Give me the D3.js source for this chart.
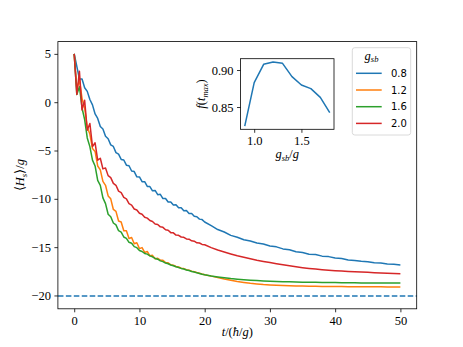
<!DOCTYPE html>
<html lang="en">
<head>
<meta charset="UTF-8">
<title>Hs relaxation</title>
<script src="https://d3js.org/d3.v7.min.js"></script>
<style>
  body { margin: 0; background: #ffffff; }
  svg { display: block; }
  .tk text { font-family: "Liberation Serif", serif; font-size: 12.5px; fill: #000; }
  .tk path, .tk line { stroke: #000; stroke-width: 0.8px; }
</style>
</head>
<body>
<script>
// time grid (hbar/g units)
var times = [0, 0.4, 0.8, 1.2, 1.6, 2, 2.4, 2.8, 3.2, 3.6, 4, 4.4, 4.8, 5.2, 5.6, 6, 6.4, 6.8, 7.2, 7.6,
  8, 8.4, 8.8, 9.2, 9.6, 10, 10.4, 10.8, 11.2, 11.6, 12, 12.4, 12.8, 13.2, 13.6, 14, 14.4, 14.8, 15.2, 15.6,
  16, 16.4, 16.8, 17.2, 17.6, 18, 18.4, 18.8, 19.2, 19.6, 20,
  21, 22, 23, 24, 25, 26, 27, 28, 29, 30, 31, 32, 33, 34, 35, 36, 37, 38, 39, 40,
  41, 42, 43, 44, 45, 46, 47, 48, 49, 50];

var hs08 = [5.0, 3.7, 2.4, 2.4, 1.5, 1.12, 0.28, -0.28, -1.22, -1.68, -2.52, -2.78, -3.52, -3.78, -4.42, -4.58, -5.22, -5.38, -5.92, -5.98,
  -6.52, -6.58, -7.12, -7.18, -7.72, -7.73, -8.22, -8.23, -8.72, -8.73, -9.17, -9.13, -9.57, -9.53, -9.97, -9.97, -10.33, -10.32, -10.63, -10.62,
  -10.93, -10.92, -11.23, -11.22, -11.53, -11.52, -11.8, -11.85, -12.1, -12.15, -12.4,
  -12.77, -13.18, -13.43, -13.78, -13.97, -14.23, -14.37, -14.58, -14.68, -14.88, -14.97, -15.18, -15.27, -15.48, -15.55, -15.73, -15.77, -15.93, -15.98, -16.12,
  -16.18, -16.32, -16.37, -16.47, -16.51, -16.62, -16.65, -16.74, -16.78, -16.85];

var hs12 = [5.0, 1.4, 2.3, 0.4, -0.6, -2.6, -3.3, -4.8, -5.1, -6.6, -7.0, -8.2, -8.6, -9.7, -10.0, -11.1, -11.3, -12.3, -12.4, -13.3,
  -13.3, -14.1, -14.0, -14.65, -14.55, -15.15, -15.05, -15.55, -15.45, -15.9, -15.85, -16.2, -16.15, -16.35, -16.35, -16.6, -16.62, -16.82, -16.86, -17.0,
  -17.05, -17.18, -17.22, -17.33, -17.38, -17.48, -17.54, -17.63, -17.7, -17.78, -17.85,
  -18.0, -18.15, -18.3, -18.43, -18.55, -18.65, -18.74, -18.81, -18.87, -18.91, -18.95, -18.98, -19.0, -19.02, -19.03, -19.04, -19.05, -19.06, -19.07, -19.07,
  -19.08, -19.09, -19.09, -19.1, -19.1, -19.11, -19.11, -19.12, -19.12, -19.13];

var hs16 = [5.0, 0.8, 1.6, -0.6, -1.8, -3.7, -4.6, -6.0, -6.6, -8.1, -8.6, -9.9, -10.5, -11.6, -11.85, -12.5, -12.7, -13.3, -13.45, -13.95,
  -14.1, -14.5, -14.6, -14.95, -15.05, -15.35, -15.45, -15.65, -15.72, -15.9, -16.0, -16.17, -16.25, -16.42, -16.5, -16.65, -16.72, -16.85, -16.92, -17.03,
  -17.1, -17.2, -17.26, -17.36, -17.42, -17.52, -17.58, -17.66, -17.72, -17.8, -17.86,
  -17.98, -18.08, -18.17, -18.25, -18.31, -18.37, -18.42, -18.46, -18.5, -18.53, -18.55, -18.57, -18.59, -18.61, -18.62, -18.63, -18.64, -18.65, -18.66, -18.67,
  -18.68, -18.68, -18.69, -18.7, -18.7, -18.71, -18.71, -18.72, -18.72, -18.72];

var hs20 = [5.0, 0.8, 3.2, -0.8, 0.2, -2.9, -2.2, -4.6, -4.2, -6.0, -5.8, -6.9, -6.8, -7.6, -7.8, -8.4, -8.6, -9.2, -9.35, -9.85,
  -10.0, -10.5, -10.65, -11.05, -11.15, -11.5, -11.6, -11.9, -12.0, -12.25, -12.35, -12.6, -12.65, -12.9, -12.95, -13.2, -13.25, -13.5, -13.52, -13.75,
  -13.78, -13.95, -13.98, -14.15, -14.18, -14.35, -14.38, -14.55, -14.57, -14.72, -14.75,
  -15.05, -15.3, -15.5, -15.7, -15.9, -16.05, -16.2, -16.35, -16.48, -16.6, -16.72, -16.83, -16.93, -17.03, -17.12, -17.2, -17.27, -17.33, -17.38, -17.43,
  -17.47, -17.51, -17.55, -17.58, -17.61, -17.64, -17.67, -17.7, -17.72, -17.75];

var groundEnergy = -20.05;
var gsbLabels = ['0.8', '1.2', '1.6', '2.0'];
var colors = ['#1f77b4', '#ff7f0e', '#2ca02c', '#d62728'];
var xTicks = [0, 10, 20, 30, 40, 50];
var yTicks = [-20, -15, -10, -5, 0, 5];

// inset: fidelity at t_max vs g_sb
var gsbInset = [0.9, 1.0, 1.1, 1.2, 1.3, 1.4, 1.5, 1.6, 1.7, 1.8];
var fInset = [0.8243, 0.8829, 0.9077, 0.9108, 0.909, 0.891, 0.8797, 0.8748, 0.863, 0.8423];
var insetXTicks = [1.0, 1.5];
var insetYTicks = [0.85, 0.90];

var W = 463, H = 347;
var svg = d3.select('body').append('svg').attr('width', W).attr('height', H);

var L = 57.9, R = 416.7, T = 41.6, B = 308.8;
var x = d3.scaleLinear().domain([-2.5, 52.5]).range([L, R]);
var y = d3.scaleLinear().domain([-21.38, 6.27]).range([B, T]);

var minus = function(v){ return (v < 0 ? '\u2212' : '') + Math.abs(v); };

var series = [hs08, hs12, hs16, hs20];
var line = d3.line()
  .x(function(d, i){ return x(times[i]); })
  .y(function(d){ return y(d); });

var plot = svg.append('g');
series.forEach(function(s, k){
  plot.append('path')
    .attr('d', line(s))
    .attr('fill', 'none')
    .attr('stroke', colors[k])
    .attr('stroke-width', 1.5)
    .attr('stroke-linejoin', 'round');
});

plot.append('line')
  .attr('x1', L).attr('x2', R)
  .attr('y1', y(groundEnergy)).attr('y2', y(groundEnergy))
  .attr('stroke', colors[0])
  .attr('stroke-width', 1.5)
  .attr('stroke-dasharray', '5.55,2.4');

svg.append('rect')
  .attr('x', L).attr('y', T).attr('width', R - L).attr('height', B - T)
  .attr('fill', 'none').attr('stroke', '#000').attr('stroke-width', 0.8);

svg.append('g').attr('class', 'tk')
  .attr('transform', 'translate(0,' + B + ')')
  .call(d3.axisBottom(x).tickValues(xTicks).tickFormat(minus).tickSize(3.5).tickPadding(3.5))
  .call(function(g){ g.select('.domain').remove(); });

svg.append('g').attr('class', 'tk')
  .attr('transform', 'translate(' + L + ',0)')
  .call(d3.axisLeft(y).tickValues(yTicks).tickFormat(minus).tickSize(3.5).tickPadding(3.5))
  .call(function(g){ g.select('.domain').remove(); });

// axis labels
var xl = svg.append('text')
  .attr('x', (L + R) / 2).attr('y', 336)
  .attr('text-anchor', 'middle')
  .style('font-family', '"Liberation Serif", serif').style('font-size', '12.5px');
xl.append('tspan').style('font-style', 'italic').text('t');
xl.append('tspan').text('/(');
xl.append('tspan').style('font-style', 'italic').text('\u0127');
xl.append('tspan').text('/');
xl.append('tspan').style('font-style', 'italic').text('g');
xl.append('tspan').text(')');

var yl = svg.append('text')
  .attr('transform', 'translate(24,' + ((T + B) / 2) + ') rotate(-90)')
  .attr('text-anchor', 'middle')
  .style('font-family', '"Liberation Serif", serif').style('font-size', '12.5px');
yl.append('tspan').text('\u27e8');
yl.append('tspan').style('font-style', 'italic').text('H');
yl.append('tspan').style('font-style', 'italic').style('font-size', '9px').attr('dy', 2.5).text('s');
yl.append('tspan').attr('dy', -2.5).text('\u27e9/');
yl.append('tspan').style('font-style', 'italic').text('g');

// legend
var lg = svg.append('g');
lg.append('rect')
  .attr('x', 352.3).attr('y', 47.7).attr('width', 58.4).attr('height', 87.3)
  .attr('rx', 2.5)
  .attr('fill', '#fff').attr('fill-opacity', 0.8)
  .attr('stroke', '#d0d0d0').attr('stroke-width', 0.8);
var lt = lg.append('text')
  .attr('x', 371.5).attr('y', 59.5)
  .attr('text-anchor', 'middle')
  .style('font-family', '"Liberation Serif", serif').style('font-size', '12.5px').style('font-style', 'italic');
lt.append('tspan').text('g');
lt.append('tspan').style('font-size', '8.5px').attr('dy', 2.5).text('sb');
gsbLabels.forEach(function(lab, k){
  var yy = 73.3 + k * 16.7;
  lg.append('line')
    .attr('x1', 356).attr('x2', 381.7).attr('y1', yy).attr('y2', yy)
    .attr('stroke', colors[k]).attr('stroke-width', 1.5);
  lg.append('text')
    .attr('x', 391).attr('y', yy + 3.6)
    .style('font-family', '"DejaVu Sans", sans-serif').style('font-size', '10px')
    .text(lab);
});

// inset
var iL = 240.5, iR = 334, iT = 58.7, iB = 129.3;
var ix = d3.scaleLinear().domain([0.855, 1.845]).range([iL, iR]);
var iy = d3.scaleLinear().domain([0.8199, 0.9153]).range([iB, iT]);
var ins = svg.append('g');
ins.append('rect')
  .attr('x', iL).attr('y', iT).attr('width', iR - iL).attr('height', iB - iT)
  .attr('fill', '#fff');
ins.append('path')
  .attr('d', d3.line().x(function(d, i){ return ix(gsbInset[i]); }).y(function(d){ return iy(d); })(fInset))
  .attr('fill', 'none').attr('stroke', colors[0]).attr('stroke-width', 1.5)
  .attr('stroke-linejoin', 'round');
ins.append('rect')
  .attr('x', iL).attr('y', iT).attr('width', iR - iL).attr('height', iB - iT)
  .attr('fill', 'none').attr('stroke', '#000').attr('stroke-width', 0.8);
ins.append('g').attr('class', 'tk')
  .attr('transform', 'translate(0,' + iB + ')')
  .call(d3.axisBottom(ix).tickValues(insetXTicks).tickFormat(d3.format('.1f')).tickSize(3.5).tickPadding(3.5))
  .call(function(g){ g.select('.domain').remove(); });
ins.append('g').attr('class', 'tk')
  .attr('transform', 'translate(' + iL + ',0)')
  .call(d3.axisLeft(iy).tickValues(insetYTicks).tickFormat(d3.format('.2f')).tickSize(3.5).tickPadding(3.5))
  .call(function(g){ g.select('.domain').remove(); });

var ixl = ins.append('text')
  .attr('x', (iL + iR) / 2).attr('y', 158)
  .attr('text-anchor', 'middle')
  .style('font-family', '"Liberation Serif", serif').style('font-size', '12.5px');
ixl.append('tspan').style('font-style', 'italic').text('g');
ixl.append('tspan').style('font-style', 'italic').style('font-size', '8.5px').attr('dy', 2.5).text('sb');
ixl.append('tspan').attr('dy', -2.5).text('/');
ixl.append('tspan').style('font-style', 'italic').text('g');

var iyl = ins.append('text')
  .attr('transform', 'translate(205,' + ((iT + iB) / 2) + ') rotate(-90)')
  .attr('text-anchor', 'middle')
  .style('font-family', '"Liberation Serif", serif').style('font-size', '12.5px');
iyl.append('tspan').style('font-style', 'italic').text('f');
iyl.append('tspan').text('(');
iyl.append('tspan').style('font-style', 'italic').text('t');
iyl.append('tspan').style('font-style', 'italic').style('font-size', '8.5px').attr('dy', 2.5).text('max');
iyl.append('tspan').attr('dy', -2.5).text(')');
</script>
</body>
</html>
